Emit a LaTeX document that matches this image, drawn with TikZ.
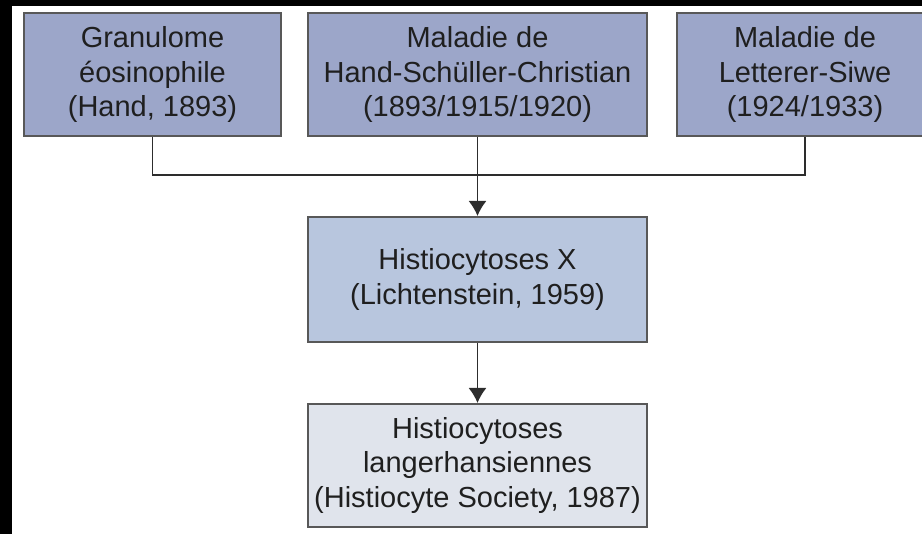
\documentclass[tikz,border=0pt]{standalone}
\usepackage{fontspec}
\setmainfont{Liberation Sans}
\usetikzlibrary{arrows.meta, calc, shadows}
\definecolor{lavande}{RGB}{156,166,201}
\definecolor{bleuclair}{RGB}{184,198,222}
\definecolor{grisbleu}{RGB}{224,228,236}
\definecolor{bord}{RGB}{88,88,88}
\definecolor{trait}{RGB}{45,45,45}
\tikzset{
	boite/.style={draw=bord, line width=1pt, inner sep=0pt, align=center,
		text=black!88, font=\fontsize{14.5}{17.3}\selectfont,
		minimum height=61.5pt,
		drop shadow={shadow xshift=0.7pt, shadow yshift=-0.7pt, fill=gray!60, opacity=0.6}},
	lien/.style={draw=trait, line width=0.8pt},
	fleche/.style={-{Latex[length=7.5pt, width=9pt]}},
}
\begin{document}
\begin{tikzpicture}[x=0.5pt, y=-0.5pt]
			\useasboundingbox (0,0) rectangle (922,534);%
			\fill[black] (0,0) rectangle (922,6);%
			\fill[black] (0,0) rectangle (12,534);%
			%
			\node[boite, fill=lavande, minimum width=128.5pt] (granulome) at (152.5,74.5) {Granulome\\ éosinophile\\ (Hand, 1893)};%
			\node[boite, fill=lavande, minimum width=169.5pt] (hsc) at (477.5,74.5) {Maladie de\\ Hand-Schüller-Christian\\ (1893/1915/1920)};%
			\node[boite, fill=lavande, minimum width=128pt] (letterer) at (805,74.5) {Maladie de\\ Letterer-Siwe\\ (1924/1933)};%
			%
			\node[boite, fill=bleuclair, minimum width=169.5pt, minimum height=62.5pt] (histx) at (477.5,279.5) {Histiocytoses X\\ (Lichtenstein, 1959)};%
			\node[boite, fill=grisbleu, minimum width=169.5pt] (langer) at (477.5,465.5) {Histiocytoses\\ langerhansiennes\\ (Histiocyte Society, 1987)};%
			%
			\coordinate (jonction) at (477.5,175);%
			\draw[lien] (granulome.south) -- (granulome.south |- jonction) -- (letterer.south |- jonction) -- (letterer.south);%
			\draw[lien, fleche] (hsc.south) -- (histx.north);%
			\draw[lien, fleche] (histx.south) -- (langer.north);%
\end{tikzpicture}
\end{document}
